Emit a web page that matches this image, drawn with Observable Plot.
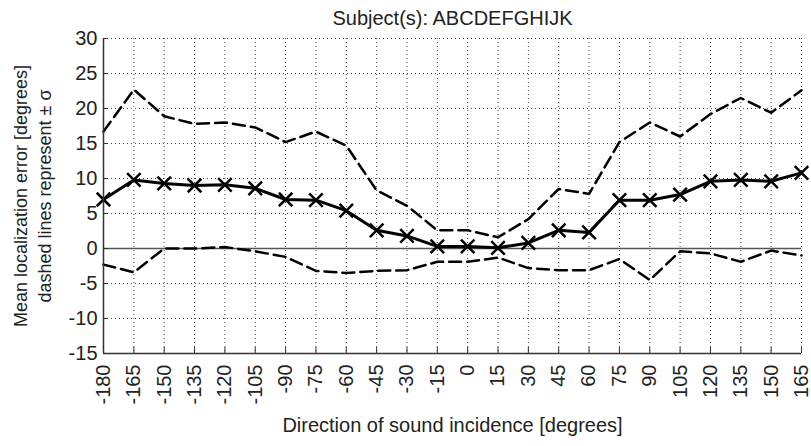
<!DOCTYPE html>
<html><head><meta charset="utf-8">
<script src="https://cdn.jsdelivr.net/npm/d3@7"></script>
<script src="https://cdn.jsdelivr.net/npm/@observablehq/plot@0.6"></script>
<style>body{margin:0;background:#fff;} svg{display:block}</style>
</head><body><div id="chart"></div>
<script>
const angles = [-180,-165,-150,-135,-120,-105,-90,-75,-60,-45,-30,-15,0,15,30,45,60,75,90,105,120,135,150,165];
const meanErr = [7.0,9.8,9.3,9.0,9.1,8.6,7.0,6.9,5.4,2.6,1.8,0.3,0.3,0.1,0.8,2.6,2.3,6.9,6.9,7.7,9.6,9.8,9.6,10.8];
const upperSigma = [16.7,22.7,18.9,17.8,18.0,17.3,15.2,16.7,14.7,8.3,6.1,2.6,2.6,1.6,4.2,8.5,7.8,15.2,18.0,16.0,19.2,21.5,19.4,22.6];
const lowerSigma = [-2.3,-3.4,0.0,0.0,0.2,-0.4,-1.2,-3.2,-3.5,-3.2,-3.1,-1.9,-1.9,-1.3,-2.8,-3.1,-3.1,-1.5,-4.5,-0.4,-0.7,-1.9,-0.3,-1.0];
const yTicks = [-15,-10,-5,0,5,10,15,20,25,30];
const xTicks = angles;
const titleText = "Subject(s): ABCDEFGHIJK";
const xTitle = "Direction of sound incidence [degrees]";
const yTitle = "Mean localization error [degrees]\ndashed lines represent \u00b1 \u03c3";

const rows = angles.map((a, i) => ({angle: a, mean: meanErr[i], upper: upperSigma[i], lower: lowerSigma[i]}));
const font = "'Liberation Sans', Arial, sans-serif";
const fmt = d => String(d);

const chart = Plot.plot({
  width: 811, height: 446,
  marginLeft: 103, marginRight: 10, marginTop: 38, marginBottom: 93,
  style: {fontFamily: font, fontSize: "20px", background: "#fff", color: "#222"},
  x: {domain: [-180, 165]},
  y: {domain: [-15, 30]},
  marks: [
    Plot.gridX(xTicks, {stroke: "#000", strokeOpacity: 0.75, strokeDasharray: "1,3"}),
    Plot.gridY(yTicks, {stroke: "#000", strokeOpacity: 0.75, strokeDasharray: "1,3"}),
    Plot.ruleY([0], {stroke: "#555", strokeWidth: 1.5}),
    Plot.line(rows, {x: "angle", y: "upper", stroke: "#000", strokeWidth: 2.5, strokeDasharray: "12,6"}),
    Plot.line(rows, {x: "angle", y: "lower", stroke: "#000", strokeWidth: 2.5, strokeDasharray: "12,6"}),
    Plot.line(rows, {x: "angle", y: "mean", stroke: "#000", strokeWidth: 3}),
    Plot.dot(rows, {x: "angle", y: "mean", symbol: "times", r: 6.2, stroke: "#000", strokeWidth: 2.5}),
    Plot.ruleX([-180], {stroke: "#333", strokeWidth: 1.5}),
    Plot.ruleY([-15], {stroke: "#333", strokeWidth: 1.5}),
    Plot.axisY(yTicks, {tickSize: -5, tickFormat: () => "", label: null, stroke: "#333"}),
    Plot.axisY(yTicks, {tickSize: 0, tickPadding: 6, tickFormat: fmt, label: null, fontSize: 20}),
    Plot.axisX(xTicks, {tickSize: -6, tickFormat: () => "", label: null, stroke: "#333"}),
    Plot.axisX(xTicks, {tickSize: 0, tickPadding: 11, tickRotate: -90, tickFormat: fmt, label: null, fontSize: 20}),
    Plot.text([titleText], {frameAnchor: "top", dy: -28, fontSize: 20}),
    Plot.text([xTitle], {frameAnchor: "bottom", dy: 78, fontSize: 20}),
    Plot.text([yTitle], {frameAnchor: "left", textAnchor: "middle", dx: -72, dy: 0, rotate: -90, fontSize: 18, lineHeight: 1.33})
  ]
});
document.getElementById("chart").appendChild(chart);
</script>
</body></html>
